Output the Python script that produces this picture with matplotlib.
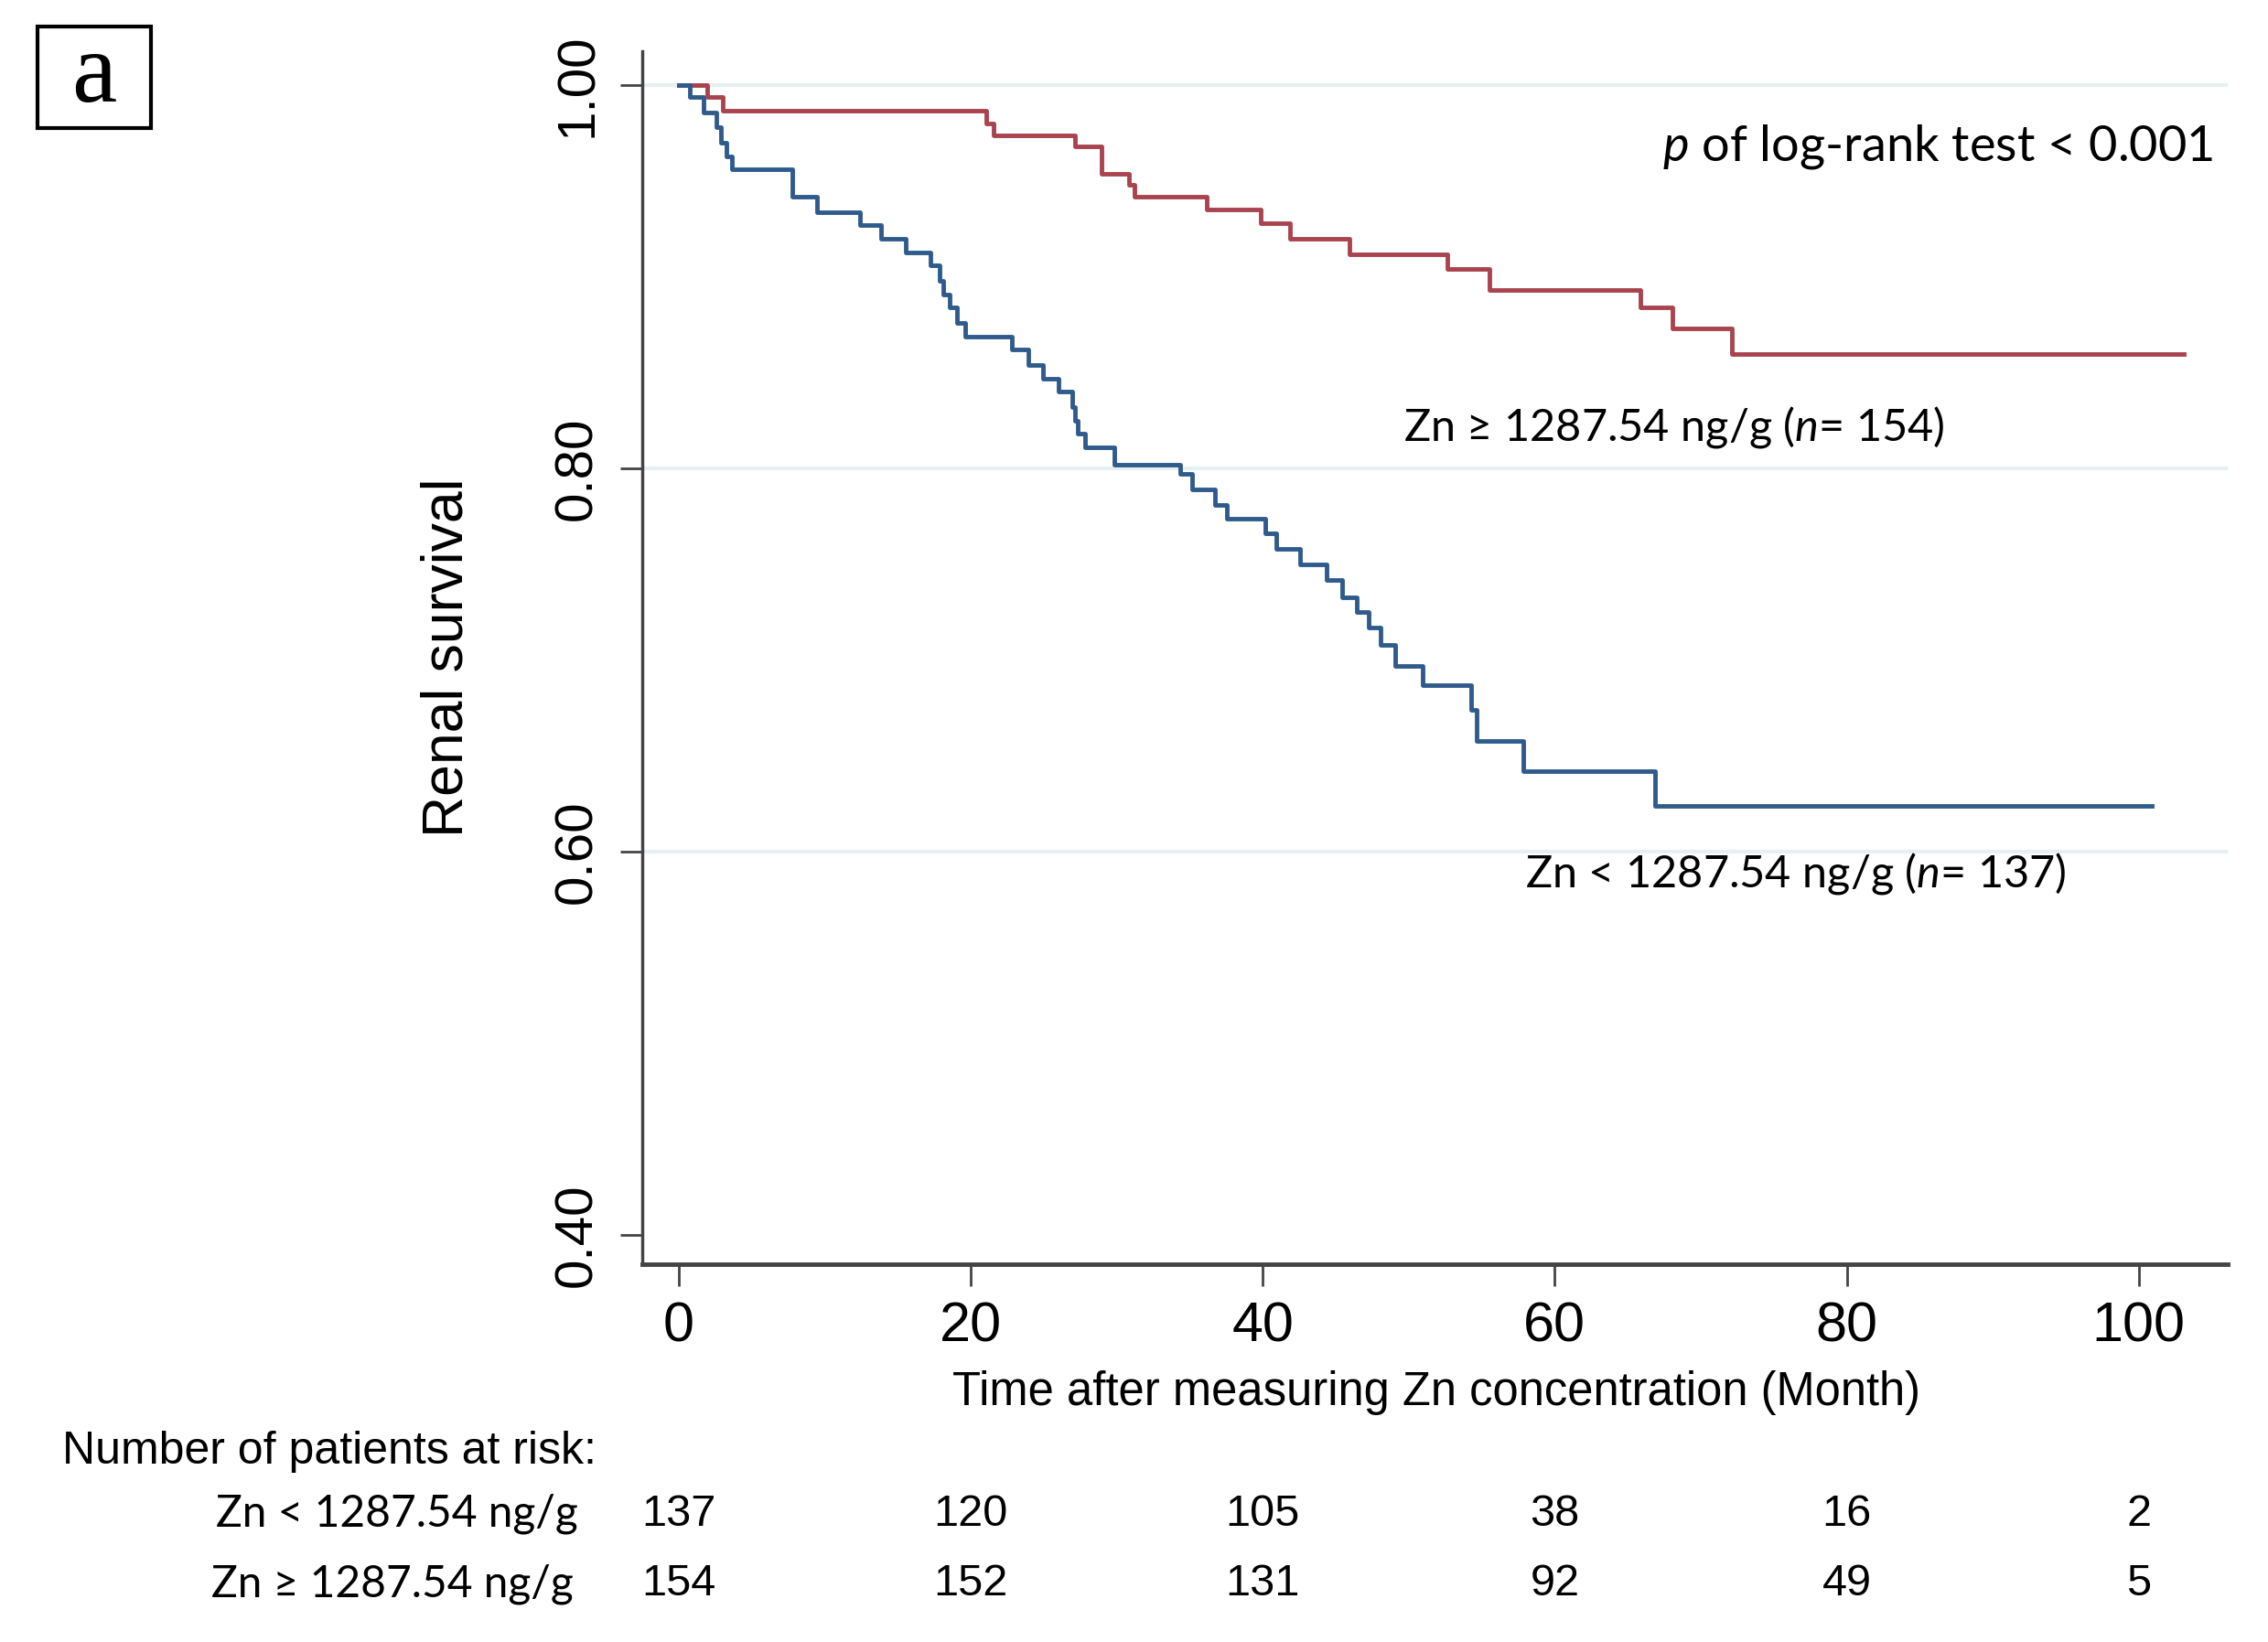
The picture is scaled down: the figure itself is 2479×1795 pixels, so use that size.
import numpy as np
import matplotlib
matplotlib.use('Agg')
import matplotlib.pyplot as plt
from matplotlib.patches import Rectangle
import matplotlib.transforms as mtransforms

# Kaplan-Meier steps (time in months, survival after the step)
low_t = [0, 0.8, 1.7, 2.6, 2.9, 3.3, 3.65, 7.8, 9.45, 12.45, 13.85, 15.55, 17.25, 17.85,
         18.15, 18.55, 19.05, 19.65, 22.85, 23.95, 24.95, 26.05, 26.95, 27.15, 27.35, 27.85,
         29.85, 34.35, 35.15, 36.75, 37.55, 40.15, 40.95, 42.55, 44.35, 45.45, 46.45, 47.25,
         48.05, 49.05, 50.95, 54.25, 54.65, 57.85, 66.85, 100.9]
low_s = [1.0, 0.994, 0.986, 0.978, 0.970, 0.963, 0.956, 0.942, 0.934, 0.927, 0.920, 0.913,
         0.906, 0.898, 0.891, 0.884, 0.876, 0.869, 0.862, 0.854, 0.847, 0.840, 0.832, 0.825,
         0.818, 0.811, 0.802, 0.797, 0.789, 0.781, 0.774, 0.766, 0.758, 0.750, 0.742, 0.733,
         0.725, 0.717, 0.708, 0.697, 0.687, 0.674, 0.658, 0.642, 0.624, 0.624]

high_t = [0, 1.95, 3.05, 21.05, 21.55, 27.15, 28.95, 30.85, 31.25, 36.15, 39.85, 41.85,
          45.95, 52.65, 55.55, 65.85, 68.05, 72.15, 103.1]
high_s = [1.0, 0.994, 0.987, 0.980, 0.974, 0.968, 0.954, 0.948, 0.942, 0.935, 0.928, 0.920,
          0.912, 0.904, 0.893, 0.884, 0.873, 0.860, 0.860]

risk_times = [0, 20, 40, 60, 80, 100]
risk_low = [137, 120, 105, 38, 16, 2]
risk_high = [154, 152, 131, 92, 49, 5]

x_ticks = [0, 20, 40, 60, 80, 100]
y_ticks = [0.40, 0.60, 0.80, 1.00]

label_low = 'Zn < 1287.54 ng/g'
label_high = 'Zn \u2265 1287.54 ng/g'

plt.rcParams['font.family'] = ['Liberation Sans', 'DejaVu Sans']
plt.rcParams['mathtext.fontset'] = 'custom'
plt.rcParams['mathtext.it'] = 'Lato:italic'
plt.rcParams['mathtext.rm'] = 'Lato'

blue = '#2f5b8c'
red = '#a8434f'
grid_c = '#e6f0f2'
axis_c = '#444444'
calib = ['Lato', 'DejaVu Sans']

fig = plt.figure(figsize=(24.79, 17.95), dpi=100)
ax = fig.add_axes([0.2831, 0.230, 0.6992, 0.739])

for y in [0.6, 0.8, 1.0]:
    ax.axhline(y, color=grid_c, lw=3, zorder=0)

ax.step(high_t, high_s, where='post', color=red, lw=3.5, zorder=3)
ax.step(low_t, low_s, where='post', color=blue, lw=3.5, zorder=3)

ax.set_xlim(-2.5, 106.1)
ax.set_ylim(0.3846, 1.018)
ax.set_xticks(x_ticks)
ax.set_yticks(y_ticks)
ax.set_yticklabels(['%.2f' % v for v in y_ticks], rotation=90, va='center')
ax.tick_params(axis='x', length=17, width=2, color=axis_c, labelsize=44, pad=12)
ax.tick_params(axis='y', length=17, width=2, color=axis_c, labelsize=42, pad=14)
for s in ['top', 'right']:
    ax.spines[s].set_visible(False)
ax.spines['left'].set_color(axis_c)
ax.spines['left'].set_linewidth(2.5)
ax.spines['bottom'].set_color(axis_c)
ax.spines['bottom'].set_linewidth(3.5)

ax.set_ylabel('Renal survival', fontsize=45, labelpad=62)

ax.text(105.1, 0.968, r'$\it{p}$ of log-rank test < 0.001', ha='right', va='center',
        fontsize=39, family=calib)
ax.text(68.2, 0.8217, label_high + r' ($\it{n}$= 154)', ha='center', va='center',
        fontsize=35, family=calib)
ax.text(76.5, 0.5888, label_low + r' ($\it{n}$= 137)', ha='center', va='center',
        fontsize=35, family=calib)

fig.text(0.6335, 0.152, 'Time after measuring Zn concentration (Month)', ha='center',
         va='center', fontsize=36.5)

# number at risk table
fig.text(0.0275, 0.1159, 'Number of patients at risk:', ha='left', va='center', fontsize=36)
fig.text(0.255, 0.0779, label_low, ha='right', va='center', fontsize=34.5, family=calib)
fig.text(0.253, 0.0355, label_high, ha='right', va='center', fontsize=34.5, family=calib)
trans = mtransforms.blended_transform_factory(ax.transData, fig.transFigure)
for t, a, b in zip(risk_times, risk_low, risk_high):
    ax.text(t, 0.0779, str(a), transform=trans, ha='center', va='center', fontsize=35)
    ax.text(t, 0.0355, str(b), transform=trans, ha='center', va='center', fontsize=35)

# panel letter in a box
fig.patches.append(Rectangle((0.0165, 0.922), 0.050, 0.062, transform=fig.transFigure,
                             fill=False, lw=3, edgecolor='black'))
fig.text(0.0415, 0.953, 'a', ha='center', va='center', fontsize=80, family='Liberation Serif')

fig.savefig('out.png', dpi=100)
